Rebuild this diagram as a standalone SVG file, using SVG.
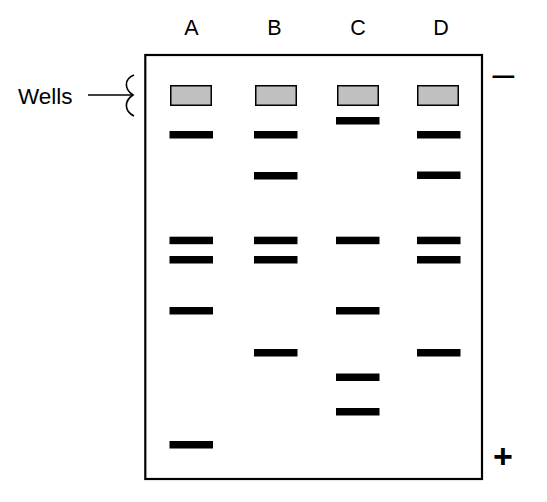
<svg xmlns="http://www.w3.org/2000/svg" width="547" height="502" viewBox="0 0 547 502">
<style>
.lbl{font-family:"Liberation Sans",Arial,sans-serif;fill:#000}
.well{fill:#c0c0c0;stroke:#000;stroke-width:1.5}
.band{fill:#000}
.ln{fill:none;stroke:#000;stroke-width:1.6}
</style>
<rect x="0" y="0" width="547" height="502" fill="#fff"/>
<g id="gel">
<rect x="145.3" y="55" width="336.7" height="424" fill="none" stroke="#000" stroke-width="2.2"/>
</g>
<g id="lane-labels">
<text class="lbl" x="191.5" y="35" font-size="21.5" text-anchor="middle">A</text>
<text class="lbl" x="274.5" y="35" font-size="21.5" text-anchor="middle">B</text>
<text class="lbl" x="358" y="35" font-size="21.5" text-anchor="middle">C</text>
<text class="lbl" x="441" y="35" font-size="21.5" text-anchor="middle">D</text>
</g>
<g id="wells-label">
<text class="lbl" x="18" y="104" font-size="22.5">Wells</text>
</g>
<g id="connectors">
<line class="ln" x1="88" y1="95" x2="133" y2="95"/>
<path class="ln" d="M134,75 C124,79 124,89 133,95 C124,101 124,111 134,116"/>
</g>
<g id="wells">
<rect class="well" x="170.75" y="85.75" width="40.5" height="19.5"/>
<rect class="well" x="255.75" y="85.75" width="40.5" height="19.5"/>
<rect class="well" x="337.75" y="85.75" width="40.5" height="19.5"/>
<rect class="well" x="417.75" y="85.75" width="40.5" height="19.5"/>
</g>
<g id="lane-A">
<rect class="band" x="169.5" y="131" width="43.5" height="7.5"/>
<rect class="band" x="169.5" y="236.7" width="43.5" height="7.5"/>
<rect class="band" x="169.5" y="256" width="43.5" height="7.5"/>
<rect class="band" x="169.5" y="307" width="43.5" height="7.5"/>
<rect class="band" x="169.5" y="441" width="43.5" height="7.5"/>
</g>
<g id="lane-B">
<rect class="band" x="254" y="131" width="43.5" height="7.5"/>
<rect class="band" x="254" y="172" width="43.5" height="7.5"/>
<rect class="band" x="254" y="236.7" width="43.5" height="7.5"/>
<rect class="band" x="254" y="256" width="43.5" height="7.5"/>
<rect class="band" x="254" y="349" width="43.5" height="7.5"/>
</g>
<g id="lane-C">
<rect class="band" x="336" y="117" width="43.5" height="7.5"/>
<rect class="band" x="336" y="236.7" width="43.5" height="7.5"/>
<rect class="band" x="336" y="307" width="43.5" height="7.5"/>
<rect class="band" x="336" y="373.5" width="43.5" height="7.5"/>
<rect class="band" x="336" y="408" width="43.5" height="7.5"/>
</g>
<g id="lane-D">
<rect class="band" x="417" y="131" width="43.5" height="7.5"/>
<rect class="band" x="417" y="171.5" width="43.5" height="7.5"/>
<rect class="band" x="417" y="236.7" width="43.5" height="7.5"/>
<rect class="band" x="417" y="256" width="43.5" height="7.5"/>
<rect class="band" x="417" y="349" width="43.5" height="7.5"/>
</g>
<g id="electrodes">
<text class="lbl" x="492.5" y="87" font-size="39">–</text>
<text class="lbl" x="503" y="468" font-size="34" font-weight="bold" text-anchor="middle">+</text>
</g>
</svg>
